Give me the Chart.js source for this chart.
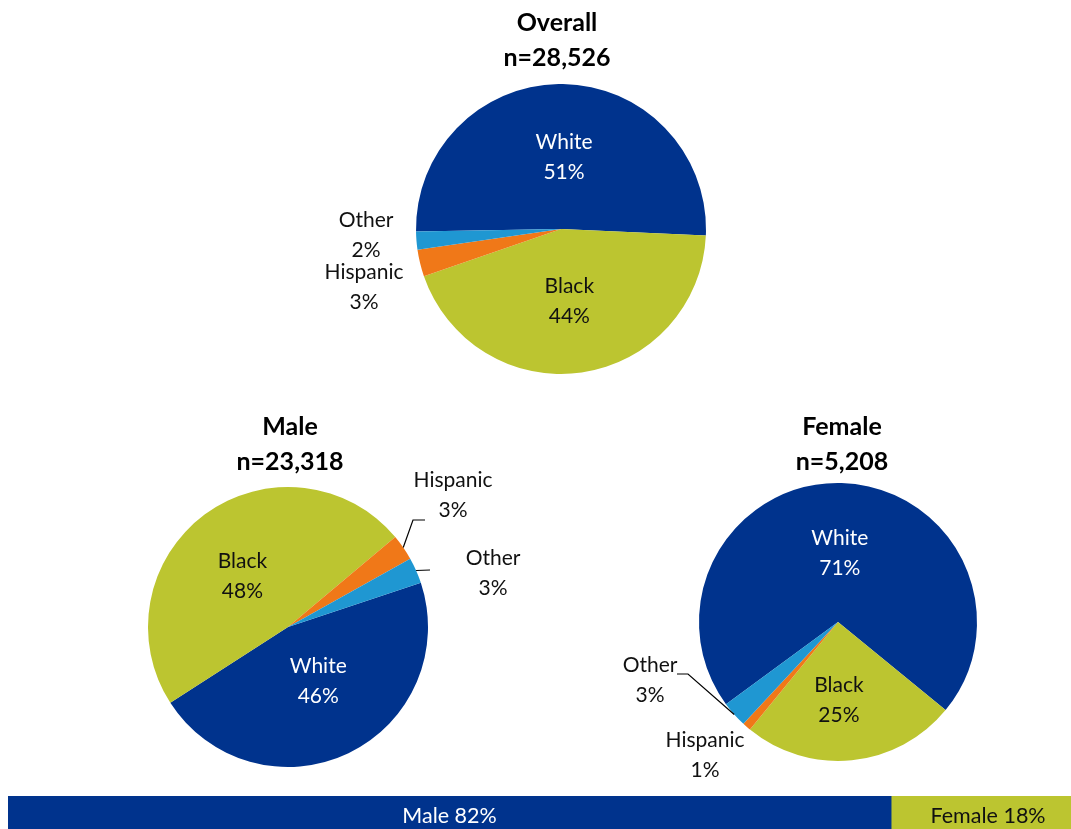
<!DOCTYPE html>
<html lang="en">
<head>
    <meta charset="UTF-8">
    <title>Race by sex</title>
    <script src="https://cdn.jsdelivr.net/npm/chart.js"></script>
    <style>
        body { margin: 0; width: 1071px; height: 829px; overflow: hidden; background: #fff; position: relative; }
        canvas { position: absolute; }
    </style>
</head>
<body>
    <canvas id="overallPie" width="520" height="400" style="left:300px; top:0px;"></canvas>
    <canvas id="malePie" width="480" height="390" style="left:100px; top:400px;"></canvas>
    <canvas id="femalePie" width="460" height="390" style="left:600px; top:400px;"></canvas>
    <canvas id="sexBar" width="1077" height="40" style="left:8px; top:796px;"></canvas>

    <script>
        // data
        const races = ["White", "Black", "Hispanic", "Other"];
        const overallPct = [51, 44, 3, 2];
        const malePct = [46, 48, 3, 3];
        const femalePct = [71, 25, 1, 3];
        const groupNames = ["Overall", "Male", "Female"];
        const groupN = ["n=28,526", "n=23,318", "n=5,208"];
        const sexLabels = ["Male", "Female"];
        const sexPct = [82, 18];

        const raceColors = ["#00338D", "#BCC530", "#F07818", "#1F97D2"];
        const FONT = "Lato, 'Open Sans', sans-serif";

        // label drawing for the pies
        function pieLabels(title, n, layout) {
            return {
                id: "pieLabels",
                afterDraw(chart) {
                    const ctx = chart.ctx;
                    const arcs = chart.getDatasetMeta(0).data;
                    const values = chart.data.datasets[0].data;
                    const cx = arcs[0].x, cy = arcs[0].y;
                    const top = cy - arcs[0].outerRadius;
                    ctx.save();
                    ctx.textAlign = "center";
                    ctx.textBaseline = "middle";

                    ctx.fillStyle = "#000";
                    ctx.font = "bold 25px " + FONT;
                    ctx.fillText(title, cx + layout.titleDx, top + layout.titleDy);
                    ctx.fillText(n, cx + layout.titleDx, top + layout.titleDy + 35);

                    ctx.font = "21px " + FONT;
                    arcs.forEach((arc, i) => {
                        const mid = (arc.startAngle + arc.endAngle) / 2;
                        const r = arc.outerRadius;
                        const spec = layout.labels[i];
                        let x, y;
                        if (spec.out) {
                            x = cx + spec.out[0];
                            y = cy + spec.out[1];
                        } else {
                            x = cx + Math.cos(mid) * r * 0.5 + (spec.adj ? spec.adj[0] : 0);
                            y = cy + Math.sin(mid) * r * 0.5 + (spec.adj ? spec.adj[1] : 0);
                        }
                        ctx.fillStyle = spec.color || "#111";
                        ctx.fillText(races[i], x, y - 15);
                        ctx.fillText(values[i] + "%", x, y + 15);

                        if (spec.leader) {
                            ctx.strokeStyle = "#000";
                            ctx.lineWidth = 1.2;
                            ctx.beginPath();
                            ctx.moveTo(cx + Math.cos(mid) * r, cy + Math.sin(mid) * r);
                            spec.leader.forEach(p => ctx.lineTo(cx + p[0], cy + p[1]));
                            ctx.stroke();
                        }
                    });
                    ctx.restore();
                }
            };
        }

        function makePie(id, values, rotation, padding, title, n, layout) {
            return new Chart(document.getElementById(id), {
                type: "pie",
                data: {
                    labels: races,
                    datasets: [{ data: values, backgroundColor: raceColors, borderWidth: 0, hoverOffset: 0 }]
                },
                options: {
                    responsive: false,
                    animation: false,
                    rotation: rotation,
                    layout: { padding: padding },
                    plugins: { legend: { display: false }, tooltip: { enabled: false } }
                },
                plugins: [pieLabels(title, n, layout)]
            });
        }

        makePie("overallPie", overallPct, 269, { left: 116, right: 114, top: 84, bottom: 26 },
            groupNames[0], groupN[0], {
                titleDx: -4, titleDy: -61,
                labels: [
                    { color: "#fff", adj: [2, 1] },
                    { color: "#111", adj: [-2, 0] },
                    { out: [-197, 58] },
                    { out: [-195, 6] }
                ]
            });

        makePie("malePie", malePct, 71.6, { left: 48, right: 152, top: 87, bottom: 23 },
            groupNames[1], groupN[1], {
                titleDx: 2, titleDy: -60,
                labels: [
                    { color: "#fff", adj: [0, -9] },
                    { color: "#111", adj: [-4, 6] },
                    { out: [165, -132], leader: [[125, -107], [137, -107]] },
                    { out: [205, -54], leader: [[142, -57]] }
                ]
            });

        makePie("femalePie", femalePct, 233.7, { left: 99, right: 83, top: 83, bottom: 29 },
            groupNames[2], groupN[2], {
                titleDx: 4, titleDy: -56,
                labels: [
                    { color: "#fff", adj: [0, 1] },
                    { color: "#111", adj: [-6, 9] },
                    { out: [-133, 133] },
                    { out: [-188, 58], leader: [[-150, 52], [-161, 52]] }
                ]
            });

        // bottom stacked bar, male vs female
        const barLabels = {
            id: "barLabels",
            afterDraw(chart) {
                const ctx = chart.ctx;
                ctx.save();
                ctx.font = "21.5px " + FONT;
                ctx.textAlign = "center";
                ctx.textBaseline = "middle";
                chart.data.datasets.forEach((ds, i) => {
                    const bar = chart.getDatasetMeta(i).data[0];
                    ctx.fillStyle = i === 0 ? "#fff" : "#111";
                    ctx.fillText(ds.label + " " + ds.data[0] + "%", (bar.base + bar.x) / 2, 20);
                });
                ctx.restore();
            }
        };

        new Chart(document.getElementById("sexBar"), {
            type: "bar",
            data: {
                labels: [""],
                datasets: sexLabels.map((s, i) => ({
                    label: s,
                    data: [sexPct[i]],
                    backgroundColor: [raceColors[0], raceColors[1]][i],
                    barPercentage: 1,
                    categoryPercentage: 1
                }))
            },
            options: {
                indexAxis: "y",
                responsive: false,
                animation: false,
                layout: { padding: 0 },
                scales: {
                    x: { stacked: true, min: 0, max: 100, display: false },
                    y: { stacked: true, display: false }
                },
                plugins: { legend: { display: false }, tooltip: { enabled: false } }
            },
            plugins: [barLabels]
        });
    </script>
</body>
</html>
